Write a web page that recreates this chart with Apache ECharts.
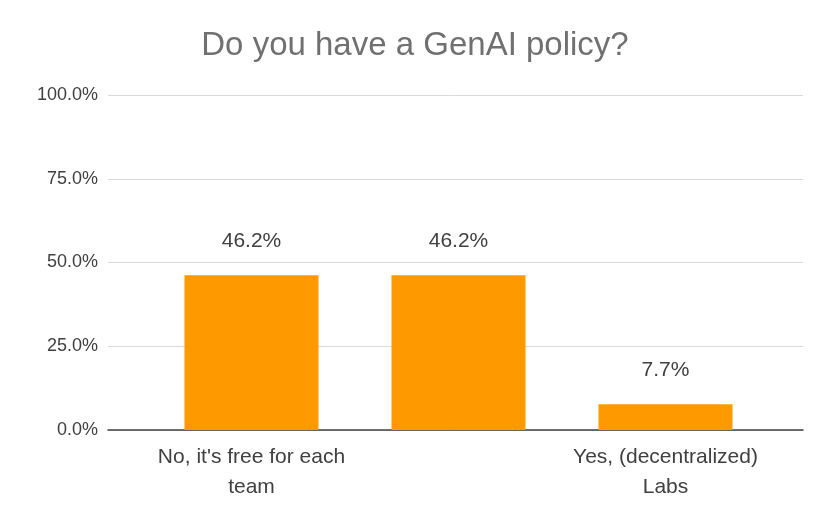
<!DOCTYPE html>
<html>
<head>
<meta charset="utf-8">
<script src="https://cdn.jsdelivr.net/npm/echarts@6/dist/echarts.min.js"></script>
<style>html,body{margin:0;padding:0;background:#fff}#main{width:830px;height:522px}</style>
</head>
<body>
<div id="main"></div>
<script>
const categories = ["No, it's free for each\nteam", "Yes, via a central\nteam", "Yes, (decentralized)\nLabs"];
const values = [46.2, 46.2, 7.7];

const font = 'Liberation Sans, sans-serif';
const chart = echarts.init(document.getElementById('main'));
chart.setOption({
  title: {
    text: 'Do you have a GenAI policy?',
    left: 'center', top: 24,
    textStyle: { fontFamily: font, fontSize: 33, fontWeight: 'normal', color: '#707070' }
  },
  // grid 0: full-width frame (y labels, gridlines, base line); grid 1: bars
  grid: [
    { left: 108, right: 27, top: 95, bottom: 92 },
    { left: 148, right: 61, top: 95, bottom: 92 }
  ],
  xAxis: [
    { gridIndex: 0, type: 'category', data: [''],
      axisLine: { lineStyle: { color: '#404040', width: 1.5 } },
      axisTick: { show: false }, axisLabel: { show: false } },
    { gridIndex: 1, type: 'category', data: categories,
      axisLine: { show: false }, axisTick: { show: false },
      axisLabel: { fontFamily: font, fontSize: 21, color: '#404040', margin: 12, lineHeight: 30 } }
  ],
  yAxis: [
    { gridIndex: 0, type: 'value', min: 0, max: 100, interval: 25,
      axisLabel: { formatter: v => v.toFixed(1) + '%', fontFamily: font, fontSize: 18, color: '#404040', margin: 10 },
      splitLine: { lineStyle: { color: '#d9d9d9' } } },
    { gridIndex: 1, type: 'value', min: 0, max: 100, interval: 25,
      axisLabel: { show: false }, splitLine: { show: false } }
  ],
  series: [{
    type: 'bar', xAxisIndex: 1, yAxisIndex: 1, data: values, barWidth: 134,
    itemStyle: { color: '#FF9900' },
    label: { show: true, position: 'top', distance: 24, formatter: p => p.value.toFixed(1) + '%',
      fontFamily: font, fontSize: 21, color: '#404040' }
  }]
});
</script>
</body>
</html>
